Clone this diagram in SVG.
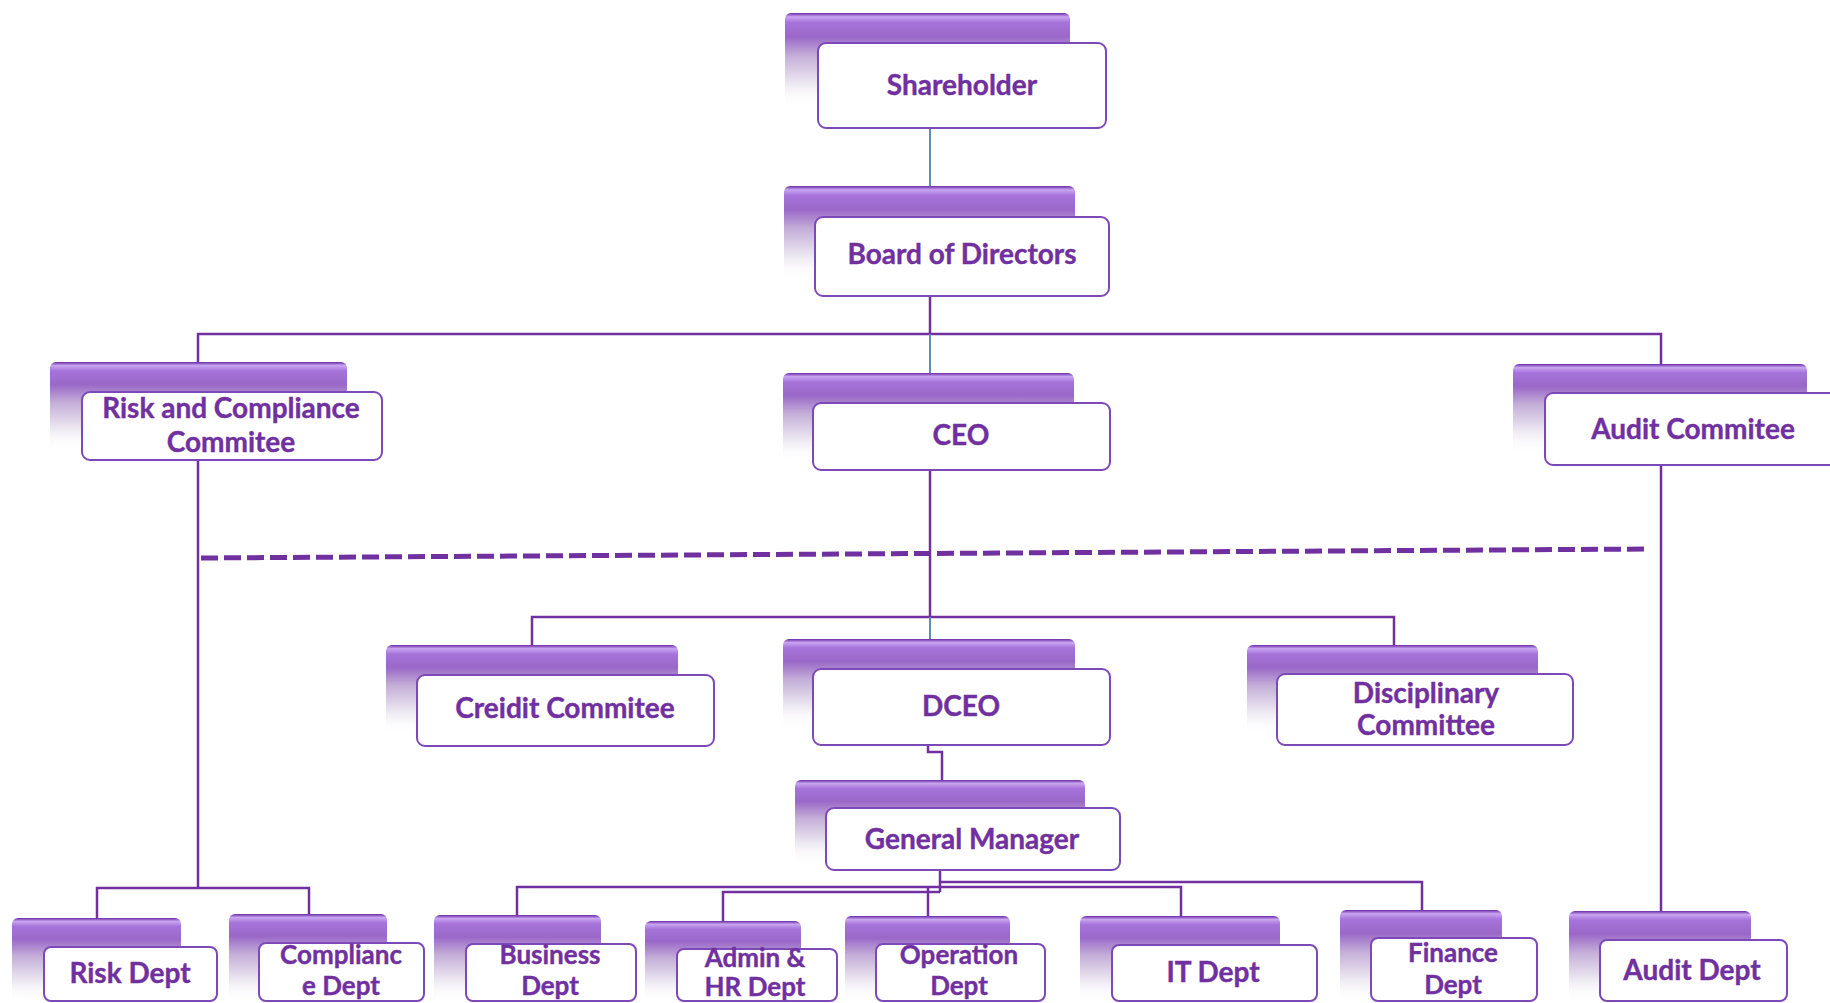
<svg xmlns="http://www.w3.org/2000/svg" width="1830" height="1003" viewBox="0 0 1830 1003">
<defs>
<linearGradient id="bar" x1="0" y1="0" x2="0" y2="1">
<stop offset="0" stop-color="#6a2aa8"/>
<stop offset="0.04" stop-color="#c9a5f0"/>
<stop offset="0.1" stop-color="#a673da"/>
<stop offset="0.25" stop-color="#9a68c8"/>
<stop offset="0.45" stop-color="#c4aed8"/>
<stop offset="0.75" stop-color="#eeeaf2"/>
<stop offset="1" stop-color="#ffffff" stop-opacity="0"/>
</linearGradient>
<style>
.bar{fill:url(#bar)}
.box{fill:#ffffff;stroke:#7d48b8;stroke-width:2}
.t{font-family:Lato,'Open Sans',sans-serif;font-weight:700;font-size:28px;fill:#7030a0;stroke:#7030a0;stroke-width:0.4;text-anchor:middle}
.s{font-size:26px}
.c{fill:none;stroke:#7030a0;stroke-width:2.5}
.cb{fill:none;stroke:#5b8db8;stroke-width:2}
.d{fill:none;stroke:#7030a0;stroke-width:5;stroke-dasharray:17 6}
</style>
</defs>
<rect width="1830" height="1003" fill="#ffffff"/>
<g id="connectors">
<path class="cb" d="M930 128V186"/>
<path class="c" d="M930 296V334"/>
<path class="c" d="M198 362V334H1661V364"/>
<path class="cb" d="M930 334V373"/>
<path class="c" d="M930 470V617"/>
<path class="c" d="M532 645V617H1394V646"/>
<path class="cb" d="M930 617V639"/>
<path class="d" d="M201 558L1650 549"/>
<path class="c" d="M198 460V888"/>
<path class="c" d="M97 918V888H309V914"/>
<path class="c" d="M1661 465V911"/>
<path class="c" d="M928 745V752H942V780"/>
<path class="c" d="M940 870V892"/>
<path class="c" d="M517 915V887H1181V916"/>
<path class="c" d="M928 887V916"/>
<path class="c" d="M940 882H1422V910"/>
<path class="c" d="M723 921V892H940"/>
</g>
<g id="shareholder">
<rect class="bar" x="785" y="13" width="285" height="95" rx="6"/>
<rect class="box" x="818" y="43" width="288" height="85" rx="8"/>
<text class="t" x="962" y="95">Shareholder</text>
</g>
<g id="board">
<rect class="bar" x="784" y="186" width="291" height="95" rx="6"/>
<rect class="box" x="815" y="217" width="294" height="79" rx="8"/>
<text class="t" x="962" y="264">Board of Directors</text>
</g>
<g id="risk-committee">
<rect class="bar" x="50" y="362" width="297" height="90" rx="6"/>
<rect class="box" x="82" y="392" width="300" height="68" rx="8"/>
<text class="t" x="231" y="418">Risk and Compliance</text>
<text class="t" x="231" y="452">Commitee</text>
</g>
<g id="ceo">
<rect class="bar" x="783" y="373" width="291" height="90" rx="6"/>
<rect class="box" x="813" y="403" width="297" height="67" rx="8"/>
<text class="t" x="961" y="445">CEO</text>
</g>
<g id="audit-committee">
<rect class="bar" x="1513" y="364" width="294" height="90" rx="6"/>
<rect class="box" x="1545" y="393" width="295" height="72" rx="8"/>
<text class="t" x="1693" y="439">Audit Commitee</text>
</g>
<g id="credit-committee">
<rect class="bar" x="386" y="645" width="292" height="90" rx="6"/>
<rect class="box" x="417" y="675" width="297" height="71" rx="8"/>
<text class="t" x="565" y="718">Creidit Commitee</text>
</g>
<g id="dceo">
<rect class="bar" x="783" y="639" width="292" height="90" rx="6"/>
<rect class="box" x="813" y="669" width="297" height="76" rx="8"/>
<text class="t" x="961" y="716">DCEO</text>
</g>
<g id="disciplinary-committee">
<rect class="bar" x="1247" y="645" width="291" height="90" rx="6"/>
<rect class="box" x="1277" y="674" width="296" height="71" rx="8"/>
<text class="t" x="1426" y="703">Disciplinary</text>
<text class="t" x="1426" y="735">Committee</text>
</g>
<g id="general-manager">
<rect class="bar" x="795" y="780" width="290" height="85" rx="6"/>
<rect class="box" x="826" y="808" width="294" height="62" rx="8"/>
<text class="t" x="972" y="849">General Manager</text>
</g>
<g id="risk-dept">
<rect class="bar" x="12" y="918" width="169" height="85" rx="6"/>
<rect class="box" x="44" y="947" width="173" height="54" rx="7"/>
<text class="t" x="130" y="983">Risk Dept</text>
</g>
<g id="compliance-dept">
<rect class="bar" x="229" y="914" width="158" height="89" rx="6"/>
<rect class="box" x="259" y="943" width="165" height="58" rx="7"/>
<text class="t s" x="341" y="964">Complianc</text>
<text class="t s" x="341" y="995">e Dept</text>
</g>
<g id="business-dept">
<rect class="bar" x="434" y="915" width="167" height="88" rx="6"/>
<rect class="box" x="466" y="944" width="170" height="57" rx="7"/>
<text class="t s" x="550" y="964">Business</text>
<text class="t s" x="550" y="995">Dept</text>
</g>
<g id="admin-hr-dept">
<rect class="bar" x="645" y="921" width="156" height="82" rx="6"/>
<rect class="box" x="677" y="949" width="160" height="52" rx="7"/>
<text class="t s" x="755" y="967">Admin &amp;</text>
<text class="t s" x="755" y="996">HR Dept</text>
</g>
<g id="operation-dept">
<rect class="bar" x="845" y="916" width="165" height="87" rx="6"/>
<rect class="box" x="876" y="944" width="169" height="57" rx="7"/>
<text class="t s" x="959" y="964">Operation</text>
<text class="t s" x="959" y="995">Dept</text>
</g>
<g id="it-dept">
<rect class="bar" x="1080" y="916" width="200" height="87" rx="6"/>
<rect class="box" x="1112" y="945" width="205" height="56" rx="7"/>
<text class="t" x="1213" y="982">IT Dept</text>
</g>
<g id="finance-dept">
<rect class="bar" x="1340" y="910" width="162" height="93" rx="6"/>
<rect class="box" x="1371" y="938" width="166" height="63" rx="7"/>
<text class="t s" x="1453" y="962">Finance</text>
<text class="t s" x="1453" y="994">Dept</text>
</g>
<g id="audit-dept">
<rect class="bar" x="1569" y="911" width="182" height="92" rx="6"/>
<rect class="box" x="1600" y="940" width="187" height="61" rx="7"/>
<text class="t" x="1692" y="980">Audit Dept</text>
</g>
</svg>
